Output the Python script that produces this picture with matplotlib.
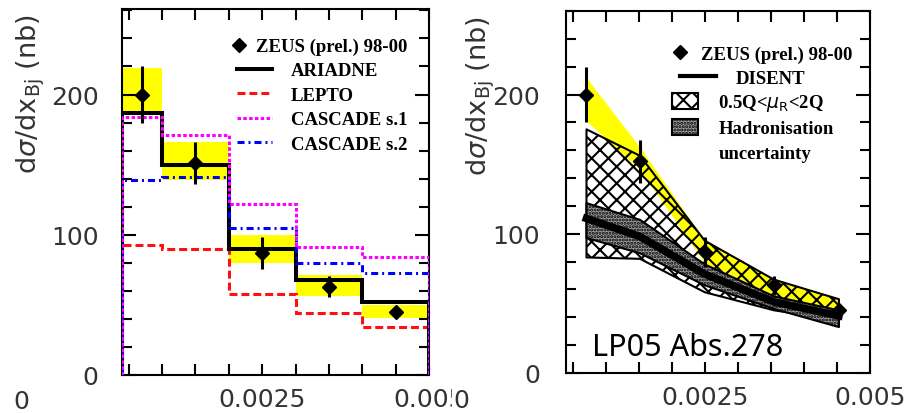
import matplotlib
matplotlib.use("Agg")
import matplotlib.pyplot as plt
from matplotlib.lines import Line2D
from matplotlib.patches import Patch
from matplotlib.font_manager import FontProperties

plt.rcParams['hatch.linewidth'] = 1.5
plt.rcParams['mathtext.fontset'] = 'dejavusans'

# ---- left panel: ZEUS vs MC (histograms) ----
edges = [0.0004, 0.001, 0.002, 0.003, 0.004, 0.005]
zeus_x = [0.0007, 0.0015, 0.0025, 0.0035, 0.0045]
zeus_y = [200, 151, 87, 63, 45]
zeus_err = [20, 15, 11.5, 7.5, 4]
syst_lo = [187, 139, 80, 56, 41]
syst_hi = [219, 166, 100, 71, 50]
ariadne = [187, 150, 90, 68, 52]
lepto = [93, 90, 58, 44, 34]
cascade1 = [184, 171, 122, 91, 84]
cascade2 = [139, 141, 105, 80, 73]

# ---- right panel: ZEUS vs DISENT ----
r_x = [0.00071, 0.00152, 0.0025, 0.00355, 0.00453]
r_zeus_y = [200, 152, 87, 63, 45]
r_zeus_err = [20, 15.5, 11, 7, 4]
band_hi = [212, 162, 95, 67, 53]
band_lo = [181, 146, 79, 56, 45]
scale_hi = [175, 156, 95, 67, 53]
scale_lo = [83, 82, 58, 45, 38]
had_hi = [122, 110, 78, 55, 45]
had_lo = [97, 86, 63, 46, 33]
disent = [111, 98, 71, 51, 41]

ylab = r'd$\sigma$/dx$_{\rm Bj}$ (nb)'
tick_col = '#333333'
leg_fp = FontProperties(family='Liberation Serif', weight='bold', size=13.5)

red_ls = (0, (2.6, 1.3))
mag_ls = (0, (1.15, 0.75))
blue_ls = (0, (2.3, 1.3, 0.65, 1.3))

fig = plt.figure(figsize=(9.09, 4.14), dpi=100)
axL = fig.add_axes([122/909, 1-376/414, 307/909, 366/414])
axR = fig.add_axes([566/909, 1-374/414, 304/909, 362/414])


def style_axes(ax, ytop, ypad):
    ax.set_xlim(0.0004, 0.005)
    ax.set_ylim(0, ytop)
    xt = [0.0005*i for i in range(1, 11)]
    ax.set_xticks(xt, ['0.0025' if abs(t-0.0025) < 1e-9 else ('0.005' if abs(t-0.005) < 1e-9 else '') for t in xt])
    ax.set_yticks([0, 100, 200], ['0', '100', '200'])
    ax.set_yticks(range(0, 261, 20), minor=True)
    ax.tick_params(which='both', direction='in', top=True, right=True, width=1.5,
                   colors='black', labelcolor=tick_col, labelsize=18)
    ax.tick_params(axis='y', which='major', length=10, pad=ypad)
    ax.tick_params(axis='y', which='minor', length=7)
    ax.tick_params(axis='x', which='major', length=8, pad=9)
    for s in ax.spines.values():
        s.set_linewidth(1.5)
    ax.set_ylabel(ylab, fontsize=19.5, color=tick_col, loc='top')


style_axes(axL, 261, 17)
style_axes(axR, 259, 18.5)
axL.yaxis.set_label_coords(-0.244, 0.99)
axR.yaxis.set_label_coords(-0.227, 0.99)

# left panel drawing
axL.stairs(syst_hi, edges, baseline=syst_lo, fill=True, color='#ffff00', lw=0, zorder=1)
axL.stairs(lepto, edges, baseline=0, color='#ff1010', lw=2.2, ls=red_ls, zorder=2)
axL.stairs(ariadne, edges, baseline=0, color='black', lw=2.9, zorder=3)
axL.stairs(cascade2, edges, baseline=0, color='#0000ff', lw=2.2, ls=blue_ls, zorder=4)
axL.stairs(cascade1, edges, baseline=0, color='#ff00ff', lw=2.2, ls=mag_ls, zorder=4)
axL.errorbar(zeus_x, zeus_y, yerr=zeus_err, fmt='D', color='black', ms=7.5, elinewidth=2.2, capsize=0, zorder=6)

h_zeus = Line2D([], [], marker='D', color='black', ls='none', ms=7.5)
leg = axL.legend([h_zeus], ['ZEUS (prel.) 98-00'], loc='upper left', bbox_to_anchor=(0.358, 0.921),
                 frameon=False, prop=leg_fp, handlelength=0.8, handletextpad=0.5, borderpad=0, borderaxespad=0)
axL.add_artist(leg)
h_lines = [Line2D([], [], color='black', lw=2.9),
           Line2D([], [], color='#ff1010', lw=2.2, ls=red_ls),
           Line2D([], [], color='#ff00ff', lw=2.2, ls=mag_ls),
           Line2D([], [], color='#0000ff', lw=2.2, ls=blue_ls)]
axL.legend(h_lines, ['ARIADNE', 'LEPTO', 'CASCADE s.1', 'CASCADE s.2'], loc='upper left',
           bbox_to_anchor=(0.375, 0.855), frameon=False, prop=leg_fp, handlelength=1.85,
           handletextpad=1.0, borderpad=0, borderaxespad=0, labelspacing=0.39)

# right panel drawing
axR.fill_between(r_x, band_lo, band_hi, color='#ffff00', lw=0, zorder=1)
axR.fill_between(r_x, scale_lo, scale_hi, facecolor='none', edgecolor='black', hatch='xx', lw=1.5, zorder=2)
axR.fill_between(r_x, had_lo, had_hi, facecolor='#a0a0a0', edgecolor='black', hatch='.....', lw=1.5, zorder=3)
axR.plot(r_x, disent, color='black', lw=5.5, zorder=4)
axR.errorbar(r_x, r_zeus_y, yerr=r_zeus_err, fmt='D', color='black', ms=7.5, elinewidth=2.2, capsize=0, zorder=6)

leg = axR.legend([h_zeus], ['ZEUS (prel.) 98-00'], loc='upper left', bbox_to_anchor=(0.349, 0.904),
                 frameon=False, prop=leg_fp, handlelength=0.8, handletextpad=0.74, borderpad=0, borderaxespad=0)
axR.add_artist(leg)
leg = axR.legend([Line2D([], [], color='black', lw=3)], ['DISENT'], loc='upper left',
                 bbox_to_anchor=(0.375, 0.838), frameon=False, prop=leg_fp, handlelength=1.9,
                 handletextpad=1.08, borderpad=0, borderaxespad=0)
axR.add_artist(leg)
h_bands = [Patch(facecolor='white', edgecolor='black', hatch='xx', lw=1.5),
           Patch(facecolor='#a0a0a0', edgecolor='black', hatch='.....', lw=1.5),
           Line2D([], [], ls='none')]
axR.legend(h_bands, [r'0.5Q<$\mu_{\rm R}$<2Q', 'Hadronisation', 'uncertainty'], loc='upper left',
           bbox_to_anchor=(0.349, 0.775), frameon=False, prop=leg_fp, handlelength=1.39,
           handleheight=0.93, handletextpad=1.08, borderpad=0, borderaxespad=0, labelspacing=0.3)

axR.text(0.085, 0.05, 'LP05 Abs.278', transform=axR.transAxes, fontsize=22, family='Noto Sans',
         ha='left', va='baseline', color='black')

# stray x=0 labels of the original figure
axL.text(-0.329, -0.071, '0', transform=axL.transAxes, ha='center', va='center',
         fontsize=18, color=tick_col)
axR.text(-0.345, -0.0746, '0', transform=axR.transAxes, ha='center', va='center',
         fontsize=18, color=tick_col, bbox=dict(facecolor='white', edgecolor='none', pad=0.5))

fig.savefig('out.png', dpi=100)
